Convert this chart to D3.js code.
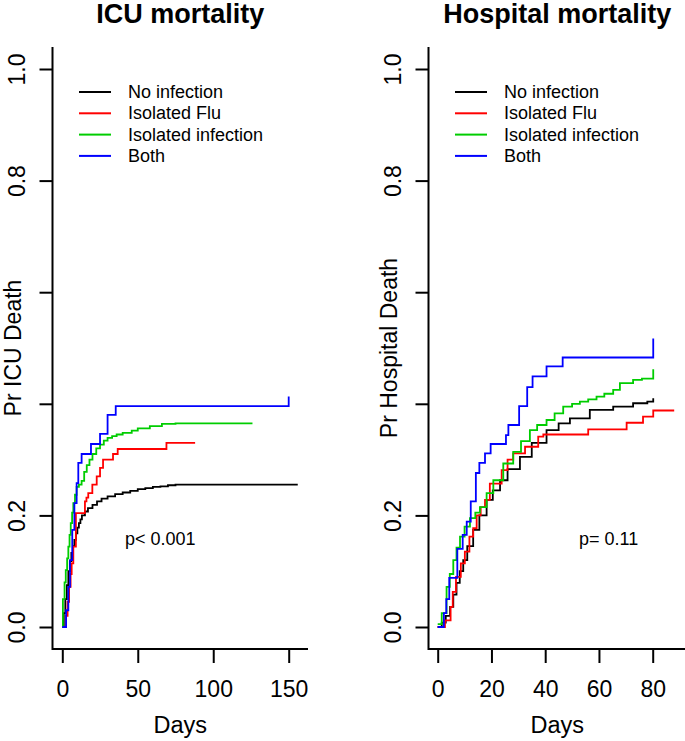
<!DOCTYPE html>
<html>
<head>
<meta charset="utf-8">
<script src="https://cdn.jsdelivr.net/npm/d3@7"></script>
<style>
  body { margin: 0; background: #fff; }
  svg { display: block; }
  text { font-family: "Liberation Sans", Arial, Helvetica, sans-serif; fill: #000; }
</style>
</head>
<body>
<svg id="chart" width="685" height="741"></svg>
<script>
// ---------------- DATA ----------------
const seriesNames = ["No infection", "Isolated Flu", "Isolated infection", "Both"];
const seriesColors = ["#000000", "#ff0000", "#00cd00", "#0000ff"];

const yTickValues = [0, 0.2, 0.4, 0.6, 0.8, 1.0];
const yTickLabels = ["0.0", "0.2", "", "", "0.8", "1.0"];

// ICU mortality panel
const icuXTicks = [0, 50, 100, 150];
const icuNoInfDays = [0,1,2,3,4,5,6,7,8,9,10,11,12,13,15,17,20,23,26,30,35,40,45,50,55,60,65,70,75,156];
const icuNoInfPr   = [0,0.025,0.05,0.075,0.1,0.118,0.133,0.145,0.156,0.168,0.178,0.186,0.193,0.2,0.207,0.213,0.219,0.225,0.23,0.234,0.238,0.241,0.244,0.247,0.249,0.251,0.252,0.254,0.255,0.255];
const icuFluDays = [0,2.5,3.5,4.5,5.5,6.2,7.3,9,15,16,17.2,19.9,22.8,25,27,33.6,36.7,69,88];
const icuFluPr   = [0,0.02,0.045,0.072,0.095,0.114,0.144,0.204,0.225,0.232,0.24,0.255,0.27,0.285,0.3,0.31,0.319,0.33,0.33];
const icuInfDays = [0,0.4,1.5,2.3,3.2,4,4.8,5.6,6.5,7.3,8.4,9.5,11,12.8,14.5,16.2,18,20,22.5,25,27.5,30,33,36,40,46,50,58,66,75,126];
const icuInfPr   = [0,0.05,0.08,0.102,0.123,0.144,0.165,0.186,0.205,0.222,0.237,0.251,0.255,0.262,0.278,0.29,0.3,0.31,0.32,0.327,0.334,0.339,0.342,0.345,0.348,0.352,0.356,0.36,0.364,0.365,0.365];
const icuBothDays = [0,2.5,4,5.1,6.6,8,9.5,10.6,12.8,19,25,30,35.4,150];
const icuBothPr   = [0,0.03,0.072,0.12,0.174,0.222,0.258,0.294,0.31,0.328,0.346,0.38,0.396,0.413];

// Hospital mortality panel
const hospXTicks = [0, 20, 40, 60, 80];
const hospNoInfDays = [0,1.5,3,4.6,5.8,7,8.2,9.5,11,13.2,15.5,18.2,20.5,23.2,26,30.6,35,40.5,45,49.2,56.6,65.3,72.7,78,80.2];
const hospNoInfPr   = [0,0.008,0.02,0.036,0.058,0.079,0.1,0.12,0.145,0.174,0.2,0.228,0.245,0.263,0.283,0.305,0.33,0.353,0.365,0.374,0.389,0.395,0.401,0.404,0.41];
const hospFluDays = [0,2.7,4.8,5.6,6.8,8.6,10.1,11.8,13.2,14.5,16,17.6,19.4,23.8,26,28.1,32.5,37.4,39.3,56,70.3,76.4,80.2,88];
const hospFluPr   = [0,0.012,0.036,0.063,0.09,0.114,0.135,0.162,0.177,0.2,0.215,0.228,0.257,0.281,0.3,0.311,0.323,0.341,0.345,0.354,0.366,0.377,0.388,0.388];
const hospInfDays = [0,1.5,3.3,4.5,5.8,7,8.3,10,12,14,15.7,18.2,20.7,24.4,28.1,31,34.3,37,40.5,43.5,46.7,50,52.9,56,59.1,62,65.3,67.8,72.7,76,80.2];
const hospInfPr   = [0.005,0.025,0.072,0.095,0.12,0.142,0.162,0.18,0.195,0.205,0.215,0.24,0.263,0.293,0.314,0.333,0.353,0.362,0.371,0.383,0.395,0.4,0.404,0.408,0.413,0.418,0.425,0.437,0.443,0.445,0.462];
const hospBothDays = [0,2.3,3.2,4.3,7.3,9.3,10.8,12.3,14.2,15.5,17.6,19.7,25.4,26.3,30.3,33.3,35.3,40.5,46.5,80.2];
const hospBothPr   = [0,0.025,0.05,0.088,0.14,0.165,0.189,0.225,0.276,0.294,0.311,0.328,0.344,0.362,0.396,0.43,0.449,0.467,0.483,0.517];

// ---------------- DRAW ----------------
const svg = d3.select("#chart");
const zip = (a, b) => a.map((d, i) => [d, b[i]]);
const FONT = '"Liberation Sans", Arial, sans-serif';

const panels = [
  {
    title: "ICU mortality", ylab: "Pr ICU Death", ptext: "p< 0.001",
    box: { x0: 52.5, x1: 308, y0: 47, y1: 649 },
    xDomain: [0, 150], xRange: [62.3, 288.7], xTicks: icuXTicks,
    series: [zip(icuNoInfDays, icuNoInfPr), zip(icuFluDays, icuFluPr), zip(icuInfDays, icuInfPr), zip(icuBothDays, icuBothPr)],
    pX: 125
  },
  {
    title: "Hospital mortality", ylab: "Pr Hospital Death", ptext: "p= 0.11",
    box: { x0: 428.5, x1: 686, y0: 47, y1: 649 },
    xDomain: [0, 80], xRange: [437.7, 652.7], xTicks: hospXTicks,
    series: [zip(hospNoInfDays, hospNoInfPr), zip(hospFluDays, hospFluPr), zip(hospInfDays, hospInfPr), zip(hospBothDays, hospBothPr)],
    pX: 579
  }
];

panels.forEach(p => {
  const x = d3.scaleLinear().domain(p.xDomain).range(p.xRange);
  const y = d3.scaleLinear().domain([0, 1]).range([627, 69]);
  const g = svg.append("g");
  const cx = (p.box.x0 + p.box.x1) / 2;

  // curves
  const line = d3.line().x(d => x(d[0])).y(d => y(d[1])).curve(d3.curveStepAfter);
  p.series.forEach((s, i) => {
    g.append("path").attr("d", line(s)).attr("fill", "none")
      .attr("stroke", seriesColors[i]).attr("stroke-width", 1.8);
  });

  // L-shaped box
  g.append("path")
    .attr("d", `M${p.box.x0},${p.box.y0}V${p.box.y1}H${p.box.x1}`)
    .attr("fill", "none").attr("stroke", "#000").attr("stroke-width", 2);

  // y axis
  const yAxis = g.append("g").attr("transform", `translate(${p.box.x0},0)`)
    .call(d3.axisLeft(y).tickValues(yTickValues).tickSize(13)
      .tickFormat((d, i) => yTickLabels[i]));
  yAxis.select(".domain").remove();
  yAxis.selectAll(".tick line").attr("stroke", "#000").attr("stroke-width", 2);
  yAxis.selectAll(".tick text")
    .attr("transform", "rotate(-90)")
    .attr("x", 0).attr("y", -28).attr("dy", 0)
    .attr("text-anchor", "middle")
    .style("font-size", "23px").style("font-family", FONT);

  // x axis
  const xAxis = g.append("g").attr("transform", `translate(0,${p.box.y1})`)
    .call(d3.axisBottom(x).tickValues(p.xTicks).tickSize(14).tickFormat(d3.format("d")));
  xAxis.select(".domain").remove();
  xAxis.selectAll(".tick line").attr("stroke", "#000").attr("stroke-width", 2);
  xAxis.selectAll(".tick text")
    .attr("y", 48).attr("dy", 0)
    .style("font-size", "23px").style("font-family", FONT);

  // titles
  g.append("text").attr("x", cx).attr("y", 23).attr("text-anchor", "middle")
    .style("font-size", "27px").style("font-weight", "bold").text(p.title);
  g.append("text").attr("x", cx).attr("y", 733).attr("text-anchor", "middle")
    .style("font-size", "23.5px").text("Days");
  g.append("text")
    .attr("transform", `translate(${p.box.x0 - 32},348) rotate(-90)`)
    .attr("text-anchor", "middle").style("font-size", "23px").text(p.ylab);

  // legend
  seriesNames.forEach((name, i) => {
    const by = 98 + i * 21.3;
    g.append("line").attr("x1", p.box.x0 + 26.5).attr("x2", p.box.x0 + 58.5)
      .attr("y1", by - 6).attr("y2", by - 6)
      .attr("stroke", seriesColors[i]).attr("stroke-width", 2);
    g.append("text").attr("x", p.box.x0 + 75.5).attr("y", by)
      .style("font-size", "18px").text(name);
  });

  // p-value
  g.append("text").attr("x", p.pX).attr("y", 545).style("font-size", "18px").text(p.ptext);
});
</script>
</body>
</html>
